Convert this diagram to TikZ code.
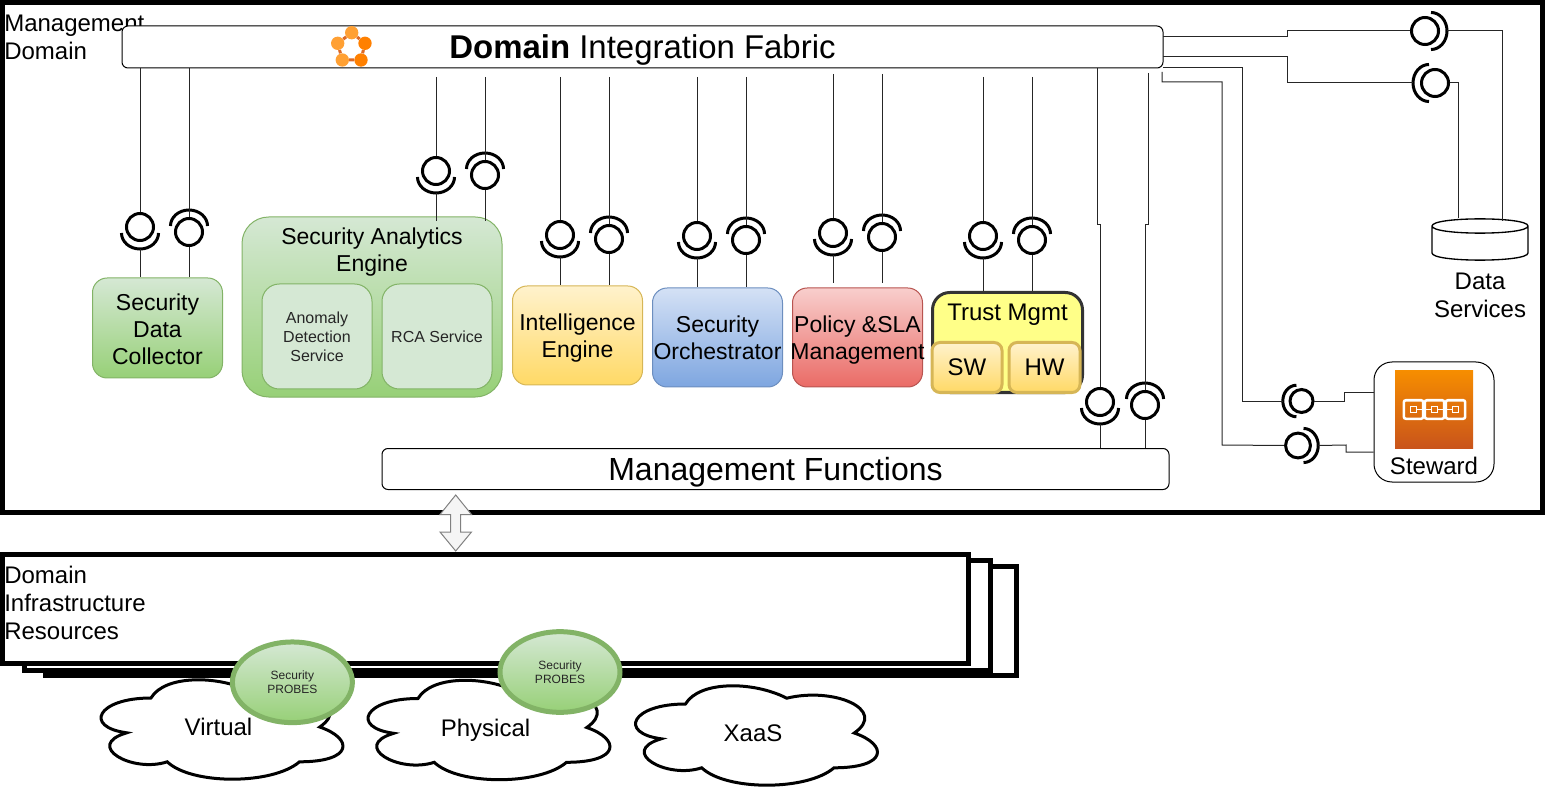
\documentclass[tikz,border=0pt]{standalone}
\usepackage{fontspec}
\setmainfont{Liberation Sans}
\usetikzlibrary{shapes.geometric}

\definecolor{grnTop}{HTML}{D5E8D4}
\definecolor{grnBot}{HTML}{97D077}
\definecolor{grnLine}{HTML}{82B366}
\definecolor{ylwTop}{HTML}{FFF2CC}
\definecolor{ylwBot}{HTML}{FFD966}
\definecolor{ylwLine}{HTML}{D6B656}
\definecolor{bluTop}{HTML}{D4E1F5}
\definecolor{bluBot}{HTML}{7EA6E0}
\definecolor{bluLine}{HTML}{6C8EBF}
\definecolor{redTop}{HTML}{F8CECC}
\definecolor{redBot}{HTML}{EA6B66}
\definecolor{redLine}{HTML}{B85450}
\definecolor{orgTop}{HTML}{F68D00}
\definecolor{orgBot}{HTML}{C9541B}
\definecolor{trustFill}{HTML}{FFFF88}
\definecolor{icoDark}{HTML}{FF8000}
\definecolor{icoPale}{HTML}{FFA033}
\definecolor{icoEdge}{HTML}{DD6A25}

\tikzset{
  boxsize/.style 2 args={minimum width=#1*.75pt, minimum height=#2*.75pt, inner sep=0pt},
  bigtext/.style={font=\fontsize{24}{28}\selectfont, text depth=0pt},
  midtext/.style={font=\fontsize{18}{21}\selectfont, align=center},
  boxtext/.style={font=\fontsize{17.25}{20.25}\selectfont, align=center},
  lowtext/.style={font=\fontsize{12}{14.2}\selectfont, align=center, text=black!85},
  tinytext/.style={font=\fontsize{9}{10.5}\selectfont, align=center, text=black!85},
  whitebox/.style={draw=black, fill=white, line width=.75pt, rounded corners=4.5pt},
  greenbox/.style={draw=grnLine, top color=grnTop, bottom color=grnBot, line width=.75pt, rounded corners=11pt},
  plainbox/.style={draw=grnLine, fill=grnTop, line width=.75pt, rounded corners=13pt},
  yellowbox/.style={draw=ylwLine, top color=ylwTop, bottom color=ylwBot, line width=.75pt, rounded corners=11pt},
  bluebox/.style={draw=bluLine, top color=bluTop, bottom color=bluBot, line width=.75pt, rounded corners=11pt},
  redbox/.style={draw=redLine, top color=redTop, bottom color=redBot, line width=.75pt, rounded corners=11pt},
  partbox/.style={draw=ylwLine, top color=ylwTop, bottom color=ylwBot, line width=2.25pt, rounded corners=6pt},
  stackbox/.style={draw=black, fill=white, line width=3.75pt},
  lollyhead/.style={draw=black, circle, line width=2.25pt, inner sep=0pt, fill=white},
  lollycup/.style={draw=black, line width=2.25pt},
  link/.style={draw=black!85, line width=.75pt},
  dot/.style={circle, inner sep=0pt, minimum size=10pt},
  chainbig/.style={draw=white, line width=1.9pt, rounded corners=1.5pt, minimum width=14.5pt, minimum height=13.9pt, inner sep=0pt},
  chainsmall/.style={draw=white, line width=1.4pt, minimum size=4.5pt, inner sep=0pt},
  probe/.style={draw=grnLine, ellipse, top color=grnTop, bottom color=grnBot, line width=3.75pt, minimum width=90pt, minimum height=60.5pt, inner sep=0pt},
}

% head of a lollipop with its cup: [scale]{name}{x}{y}{turn}
\newcommand{\lolly}[5][1]{%
  \node[lollyhead, minimum size=#1*20.25pt] (#2) at (#3,#4) {};
  \draw[lollycup, shift={(#2.center)}, rotate=#5, scale=#1] (-13.9pt,-4.5pt) arc[start angle=180, end angle=360, x radius=13.9pt, y radius=12pt];
  \path[shift={(#2.center)}, rotate=#5, scale=#1] (0pt,-16.5pt) coordinate (#2t);
}
% cloud outline round a centred label: {name}{x}{y}{text}
\newcommand{\puff}[4]{%
  \draw[line width=2.25pt, shift={(#2,#3)}] (-67.5,-29)
    .. controls (-121.5,-29) and (-135,0) .. (-91.8,5.8)
    .. controls (-135,18.56) and (-86.4,46.4) .. (-51.3,34.8)
    .. controls (-27,58) and (54,58) .. (81,34.8)
    .. controls (135,34.8) and (135,11.6) .. (101.25,0)
    .. controls (135,-23.2) and (81,-46.4) .. (33.75,-34.8)
    .. controls (0,-52.2) and (-54,-52.2) .. (-67.5,-29) -- cycle;
  \node[midtext, text depth=0pt] (#1) at (#2,#3) {#4};
}

\begin{document}
\begin{tikzpicture}[x=.75pt, y=-.75pt]
  \useasboundingbox (0,0) rectangle (1545,791);

  % management domain
  \node[draw=black, line width=3.75pt, boxsize={1540}{510}] (domain) at (772.5,257.5) {};
  \node[midtext, align=left, anchor=north west, inner sep=0pt] (domainText) at (4,14.4) {Management\\Domain};
  \node[whitebox, boxsize={1041}{42}, bigtext, font=\fontsize{24.7}{28}\selectfont] (fabric) at (642.5,47) {\textbf{Domain} Integration Fabric};
  \node[whitebox, boxsize={787}{41}, bigtext] (mgmt) at (775.5,469) {Management Functions};

  % fabric icon
  \node[dot, fill=icoPale] (icoA) at (351.7,32.7) {};
  \node[dot, fill=icoDark] (icoB) at (365,43.3) {};
  \node[dot, fill=icoDark] (icoC) at (361,60) {};
  \node[dot, fill=icoPale] (icoD) at (342.3,60) {};
  \node[dot, fill=icoPale] (icoE) at (337.7,43.3) {};
  \draw[line width=2.25pt, icoEdge] (icoA) -- (icoB) -- (icoC) -- (icoD) -- (icoE) -- (icoA);

  % boxes
  \node[greenbox, boxsize={130}{100}] (collector) at (157.5,328) {};
  \node[boxtext] (collectorText) at (157.5,329) {Security\\Data\\Collector};
  \node[greenbox, boxsize={260}{180}, rounded corners=20pt] (engine) at (372,307) {};
  \node[boxtext] (engineText) at (372,252.5) {Security Analytics\\Engine};
  \node[plainbox, boxsize={110}{105}] (anomaly) at (317,336.5) {};
  \node[lowtext] (anomalyText) at (317,336.5) {Anomaly\\Detection\\Service};
  \node[plainbox, boxsize={110}{105}] (rca) at (437,336.5) {};
  \node[lowtext] (rcaText) at (437,336.5) {RCA Service};
  \node[yellowbox, boxsize={130}{99}] (intel) at (577.5,335.5) {};
  \node[boxtext] (intelText) at (577.5,338.5) {Intelligence\\Engine};
  \node[bluebox, boxsize={130}{99}] (orch) at (717.5,337.5) {};
  \node[boxtext] (orchText) at (717.5,338) {Security\\Orchestrator};
  \node[redbox, boxsize={130}{99}] (policy) at (857.5,337.5) {};
  \node[boxtext] (policyText) at (857.5,340.5) {Policy \&SLA\\Management};
  \node[draw=black!80, fill=trustFill, line width=2.25pt, rounded corners=13pt, boxsize={150}{100}] (trust) at (1007.5,342.5) {};
  \node[midtext] (trustText) at (1007.5,315) {Trust Mgmt};
  \node[partbox, boxsize={70}{50}, midtext] (sw) at (967,367.5) {SW};
  \node[partbox, boxsize={71}{50}, midtext] (hw) at (1044.5,367.5) {HW};

  % data services and steward
  \draw[fill=white, line width=1pt] (1432,226) .. controls (1432,216.5) and (1528,216.5) .. (1528,226) -- (1528,253)
    .. controls (1528,262.5) and (1432,262.5) .. (1432,253) -- cycle
    (1432,226) .. controls (1432,235.5) and (1528,235.5) .. (1528,226);
  \coordinate (dataA) at (1502,221);
  \coordinate (dataB) at (1458,218);
  \node[midtext] (dataText) at (1480,295) {Data\\Services};
  \node[whitebox, boxsize={120}{120}, rounded corners=13.5pt] (steward) at (1434,422) {};
  \node[midtext] (stewardText) at (1434,466) {Steward};
  \node[top color=orgTop, bottom color=orgBot, boxsize={78}{77}] (stewardIcon) at (1434,409.5) {};
  \node[chainbig] (chainA) at (1413.5,409.5) {};
  \node[chainbig] (chainB) at (1434.5,409.5) {};
  \node[chainbig] (chainC) at (1455.5,409.5) {};
  \node[chainsmall] (dotA) at (1413.5,409.5) {};
  \node[chainsmall] (dotB) at (1434.5,409.5) {};
  \node[chainsmall] (dotC) at (1455.5,409.5) {};
  \draw[white, line width=1.4pt] (dotA) -- (dotB) (dotB) -- (dotC);

  % lollipops
  \lolly{cola}{140}{227}{0}
  \lolly{colb}{189}{232}{180}
  \lolly{enga}{436}{171}{0}
  \lolly{engb}{485}{175}{180}
  \lolly{inta}{560}{235}{0}
  \lolly{intb}{609}{239}{180}
  \lolly{orca}{697}{236}{0}
  \lolly{orcb}{746}{240}{180}
  \lolly{pola}{833}{233}{0}
  \lolly{polb}{882}{237}{180}
  \lolly{tra}{983}{236}{0}
  \lolly{trb}{1032}{240}{180}
  \lolly{mga}{1100}{402}{0}
  \lolly{mgb}{1145}{405}{180}
  \lolly{dsa}{1425}{31}{90}
  \lolly{dsb}{1435}{83}{-90}
  \lolly[.85]{sta}{1301.5}{401}{-90}
  \lolly[.92]{stb}{1298}{445.5}{90}

  % free ends
  \coordinate (gapTop) at (0,77);
  \coordinate (polTop) at (0,74);
  \coordinate (engEnd) at (0,221);
  \coordinate (polEnd) at (0,283);
  \coordinate (fabA) at (1163,37);
  \coordinate (fabB) at (1163,57);
  \coordinate (fabC) at (1163,67.5);
  \coordinate (fabD) at (1162,72);
  \coordinate (fabE) at (1148,73);

  % connectors
  \draw[link] (fabric.south -| cola.north) -- (cola.north);
  \draw[link] (fabric.south -| colb.north) -- (colb.north);
  \draw[link] (colat) -- (colat |- collector.north);
  \draw[link] (colb.south) -- (colb.south |- collector.north);
  \draw[link] (gapTop -| enga.north) -- (enga.north);
  \draw[link] (gapTop -| engb.north) -- (engb.north);
  \draw[link] (engat) -- (engat |- engEnd);
  \draw[link] (engb.south) -- (engb.south |- engEnd);
  \draw[link] (gapTop -| inta.north) -- (inta.north);
  \draw[link] (gapTop -| intb.north) -- (intb.north);
  \draw[link] (intat) -- (intat |- intel.north);
  \draw[link] (intb.south) -- (intb.south |- intel.north);
  \draw[link] (gapTop -| orca.north) -- (orca.north);
  \draw[link] (gapTop -| orcb.north) -- (orcb.north);
  \draw[link] (orcat) -- (orcat |- orch.north);
  \draw[link] (orcb.south) -- (orcb.south |- orch.north);
  \draw[link] (polTop -| pola.north) -- (pola.north);
  \draw[link] (polTop -| polb.north) -- (polb.north);
  \draw[link] (polat) -- (polat |- polEnd);
  \draw[link] (polb.south) -- (polb.south |- polEnd);
  \draw[link] (gapTop -| tra.north) -- (tra.north);
  \draw[link] (gapTop -| trb.north) -- (trb.north);
  \draw[link] (trat) -- (trat |- trust.north);
  \draw[link] (trb.south) -- (trb.south |- trust.north);
  \draw[link] (fabric.south -| 1097,0) -- (1097,225) -- (1100,225) -- (mga.north);
  \draw[link] (fabE) -- (1148,225) -- (1145,225) -- (mgb.north);
  \draw[link] (mgat) -- (mgat |- mgmt.north);
  \draw[link] (mgb.south) -- (mgb.south |- mgmt.north);
  \draw[link] (fabA) -- (1287,37) -- (1287,31) -- (dsa.west);
  \draw[link] (dsat) -- (1502,31) -- (dataA);
  \draw[link] (fabB) -- (1287,57) -- (1287,83) -- (dsbt);
  \draw[link] (dsb.east) -- (1458,83) -- (dataB);
  \draw[link] (fabC) -- (1242,67.5) -- (1242,401) -- (stat);
  \draw[link] (sta.east) -- (1344,401) -- (1344,392) -- (steward.west |- 0,392);
  \draw[link] (fabD) -- (1162,82) -- (1222,82) -- (1222,445) -- (stb.west);
  \draw[link] (stbt) -- (1346,445) -- (1346,452) -- (steward.west |- 0,452);

  % arrow to the resources
  \draw[draw=black!50, fill=black!4, line width=.75pt] (455.7,495) -- (471.5,514.5) -- (460.7,514.5) -- (460.7,532) -- (471.5,532)
    -- (455.7,551) -- (440,532) -- (450.7,532) -- (450.7,514.5) -- (440,514.5) -- cycle;

  % resources
  \node[stackbox, boxsize={971.5}{109.5}] (backStack) at (531,621) {};
  \node[stackbox, boxsize={966}{110}] (midStack) at (507.5,615.5) {};
  \node[stackbox, boxsize={966}{109}] (frontStack) at (485.5,609) {};
  \node[midtext, align=left, anchor=north west, inner sep=0pt] (stackText) at (4,565.4) {Domain\\Infrastructure\\Resources};

  % clouds and probes
  \puff{virtual}{218.5}{727}{Virtual}
  \puff{physical}{485.5}{727.5}{Physical}
  \puff{xaas}{753}{733}{XaaS}
  \node[probe, tinytext] (probeA) at (292.4,682.3) {Security\\PROBES};
  \node[probe, tinytext] (probeB) at (560,672) {Security\\PROBES};
\end{tikzpicture}
\end{document}
